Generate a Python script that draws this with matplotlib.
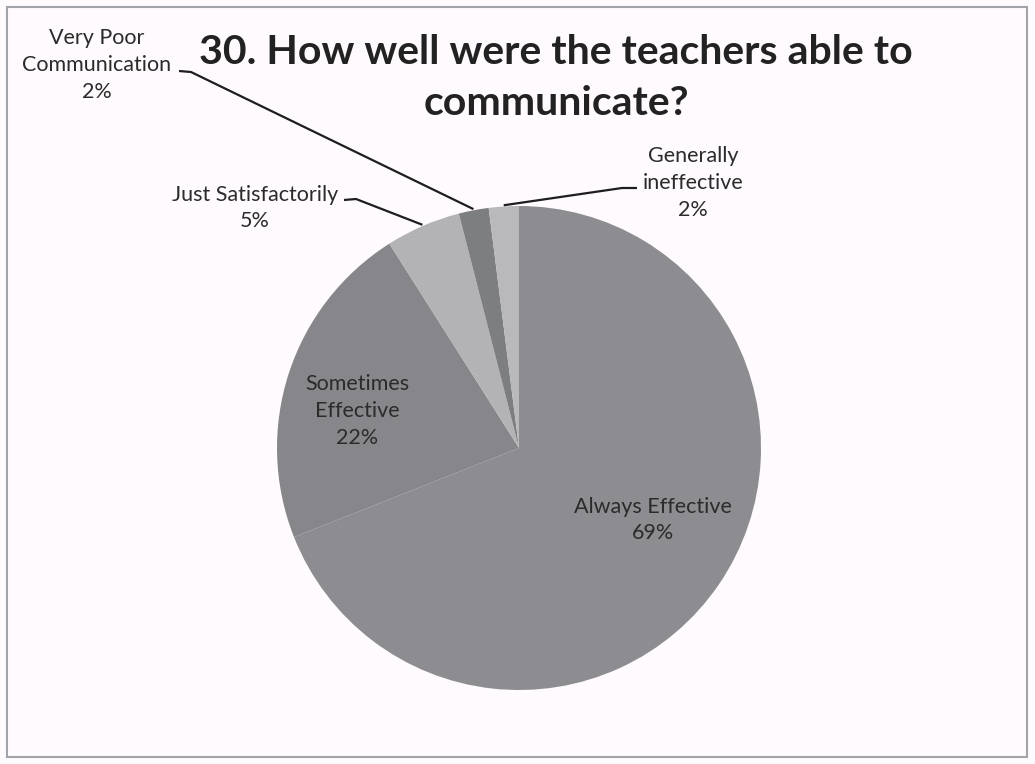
import matplotlib.pyplot as plt
import numpy as np
from matplotlib.patches import Rectangle

# data
categories = ["Always Effective", "Sometimes\nEffective", "Just Satisfactorily",
              "Very Poor\nCommunication", "Generally\nineffective"]
shares = [69, 22, 5, 2, 2]
colors = ["#8c8c91", "#87878b", "#b3b3b6", "#7c7e80", "#b9b9bc"]
title = "30. How well were the teachers able to\ncommunicate?"

W, H = 1035, 764
fig = plt.figure(figsize=(W / 100, H / 100), dpi=100, facecolor="#fefafd")
ax = fig.add_axes([0, 0, 1, 1])

font = "Lato"
txt_color = "#2b2b2b"

cx, cy, r = 519, H - 448, 242
wedges, _ = ax.pie(shares, colors=colors, startangle=90, counterclock=False,
                   center=(cx, cy), radius=r, frame=True,
                   wedgeprops=dict(linewidth=0))
ax.set_xlim(0, W)
ax.set_ylim(0, H)
ax.axis("off")


def edge_point(w, frac=1.0):
    ang = np.deg2rad((w.theta1 + w.theta2) / 2)
    return cx + frac * r * np.cos(ang), cy + frac * r * np.sin(ang)


# label text centre and leader line elbow (None = label inside the slice)
label_pos = [
    ((653, H - 520), None),
    ((357, H - 411), None),
    ((255, H - 208), [(344, H - 200), (356, H - 199)]),
    ((97, H - 65), [(179, H - 71), (191, H - 72)]),
    ((693, H - 183), [(637, H - 188), (622, H - 188)]),
]

for w, name, val, (pos, elbow) in zip(wedges, categories, shares, label_pos):
    ax.text(pos[0], pos[1], f"{name}\n{val}%", ha="center", va="center",
            fontsize=15.5, family=font, color=txt_color, linespacing=1.42)
    if elbow is not None:
        ex, ey = edge_point(w, 1.005)
        xs = [p[0] for p in elbow] + [ex]
        ys = [p[1] for p in elbow] + [ey]
        ax.plot(xs, ys, color="#1e1e1e", linewidth=1.6, solid_capstyle="butt")

ax.text(556, H - 78, title, ha="center", va="center", fontsize=29.5,
        fontweight="bold", family=font, color="#222222", linespacing=1.45)

ax.add_patch(Rectangle((7, H - 757), 1020, 750, fill=False,
                       edgecolor="#a3a3ab", linewidth=1.5))

fig.savefig("out.png", dpi=100, facecolor=fig.get_facecolor())
